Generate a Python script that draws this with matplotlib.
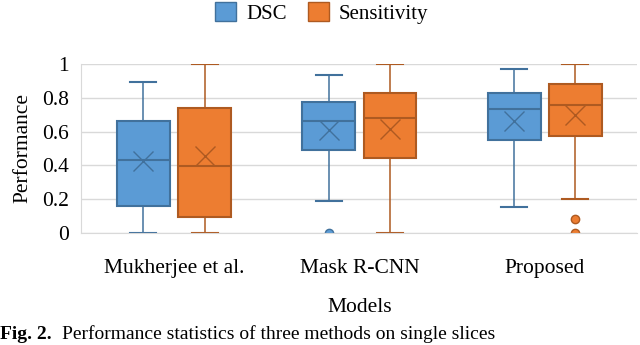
import matplotlib
matplotlib.use('Agg')
from matplotlib import pyplot as plt
from matplotlib.patches import Patch

models = ['Mukherjee et al.', 'Mask R-CNN', 'Proposed']
series = ['DSC', 'Sensitivity']

# five-number summaries + mean
dsc_low = [0.0, 0.188, 0.155]
dsc_q1 = [0.157, 0.494, 0.553]
dsc_med = [0.431, 0.663, 0.731]
dsc_q3 = [0.663, 0.775, 0.827]
dsc_high = [0.893, 0.932, 0.971]
dsc_mean = [0.425, 0.608, 0.663]
dsc_out = [[], [0.0], []]

sens_low = [0.0, 0.0, 0.202]
sens_q1 = [0.094, 0.443, 0.571]
sens_med = [0.398, 0.680, 0.755]
sens_q3 = [0.737, 0.827, 0.882]
sens_high = [1.0, 1.0, 1.0]
sens_mean = [0.455, 0.614, 0.696]
sens_out = [[], [], [0.085, 0.0]]

fills = ['#5B9BD5', '#ED7D31']
edges = ['#41719C', '#AE5A21']

plt.rcParams['font.family'] = ['Liberation Serif', 'DejaVu Serif']


def make_stats(low, q1, med, q3, high, mean, out):
	stats = []
	for i in range(len(low)):
		stats.append({'whislo': low[i], 'q1': q1[i], 'med': med[i], 'q3': q3[i],
					  'whishi': high[i], 'mean': mean[i], 'fliers': out[i]})
	return stats


def main():
	fig = plt.figure(figsize=(6.4, 3.45), dpi=100)
	ax = fig.add_axes([0.127, 0.3246, 0.869, 0.49])

	all_stats = [make_stats(dsc_low, dsc_q1, dsc_med, dsc_q3, dsc_high, dsc_mean, dsc_out),
				 make_stats(sens_low, sens_q1, sens_med, sens_q3, sens_high, sens_mean, sens_out)]
	offsets = [-0.165, 0.165]
	for k in range(2):
		pos = [i + offsets[k] for i in range(len(models))]
		ax.bxp(all_stats[k], positions=pos, widths=0.285, patch_artist=True,
			   showmeans=True, manage_ticks=False,
			   boxprops=dict(facecolor=fills[k], edgecolor=edges[k], linewidth=1.5),
			   medianprops=dict(color=edges[k], linewidth=1.5),
			   whiskerprops=dict(color=edges[k], linewidth=1.1),
			   capprops=dict(color=edges[k], linewidth=1.5),
			   capwidths=0.14,
			   meanprops=dict(marker='x', markeredgecolor=edges[k], markersize=14, markeredgewidth=1.0),
			   flierprops=dict(marker='o', markerfacecolor=fills[k], markeredgecolor=edges[k],
							   markersize=6))

	ax.set_xlim(-0.5, 2.5)
	ax.set_ylim(0, 1)
	ax.set_yticks([0, 0.2, 0.4, 0.6, 0.8, 1.0])
	ax.set_yticklabels(['0', '0.2', '0.4', '0.6', '0.8', '1'])
	ax.set_xticks(range(len(models)))
	ax.set_xticklabels(models)
	ax.tick_params(length=0, labelsize=15.5, colors='black')
	ax.tick_params(axis='x', pad=19)
	ax.tick_params(axis='y', pad=9)
	ax.grid(axis='y', color='#D9D9D9', linewidth=1.0)
	ax.set_axisbelow(True)
	for s in ['top', 'right']:
		ax.spines[s].set_visible(False)
	ax.spines['left'].set_color('#D9D9D9')
	ax.spines['bottom'].set_color('#D9D9D9')
	ax.set_xlabel('Models', fontsize=15.5, labelpad=14)
	ax.set_ylabel('Performance', fontsize=15.5, labelpad=7)

	handles = [Patch(facecolor=fills[k], edgecolor=edges[k], label=series[k]) for k in range(2)]
	fig.legend(handles=handles, loc='center', bbox_to_anchor=(0.503, 0.962), ncol=2,
			   frameon=False, fontsize=15, handlelength=1.0, handleheight=1.0,
			   columnspacing=1.0, handletextpad=0.5)

	fig.text(0.0, 0.006, 'Fig. 2.', fontsize=14, fontweight='bold', va='bottom')
	fig.text(0.097, 0.006, 'Performance statistics of three methods on single slices',
			 fontsize=14, va='bottom')

	fig.savefig('out.png', dpi=100)


if __name__ == '__main__':
	main()
